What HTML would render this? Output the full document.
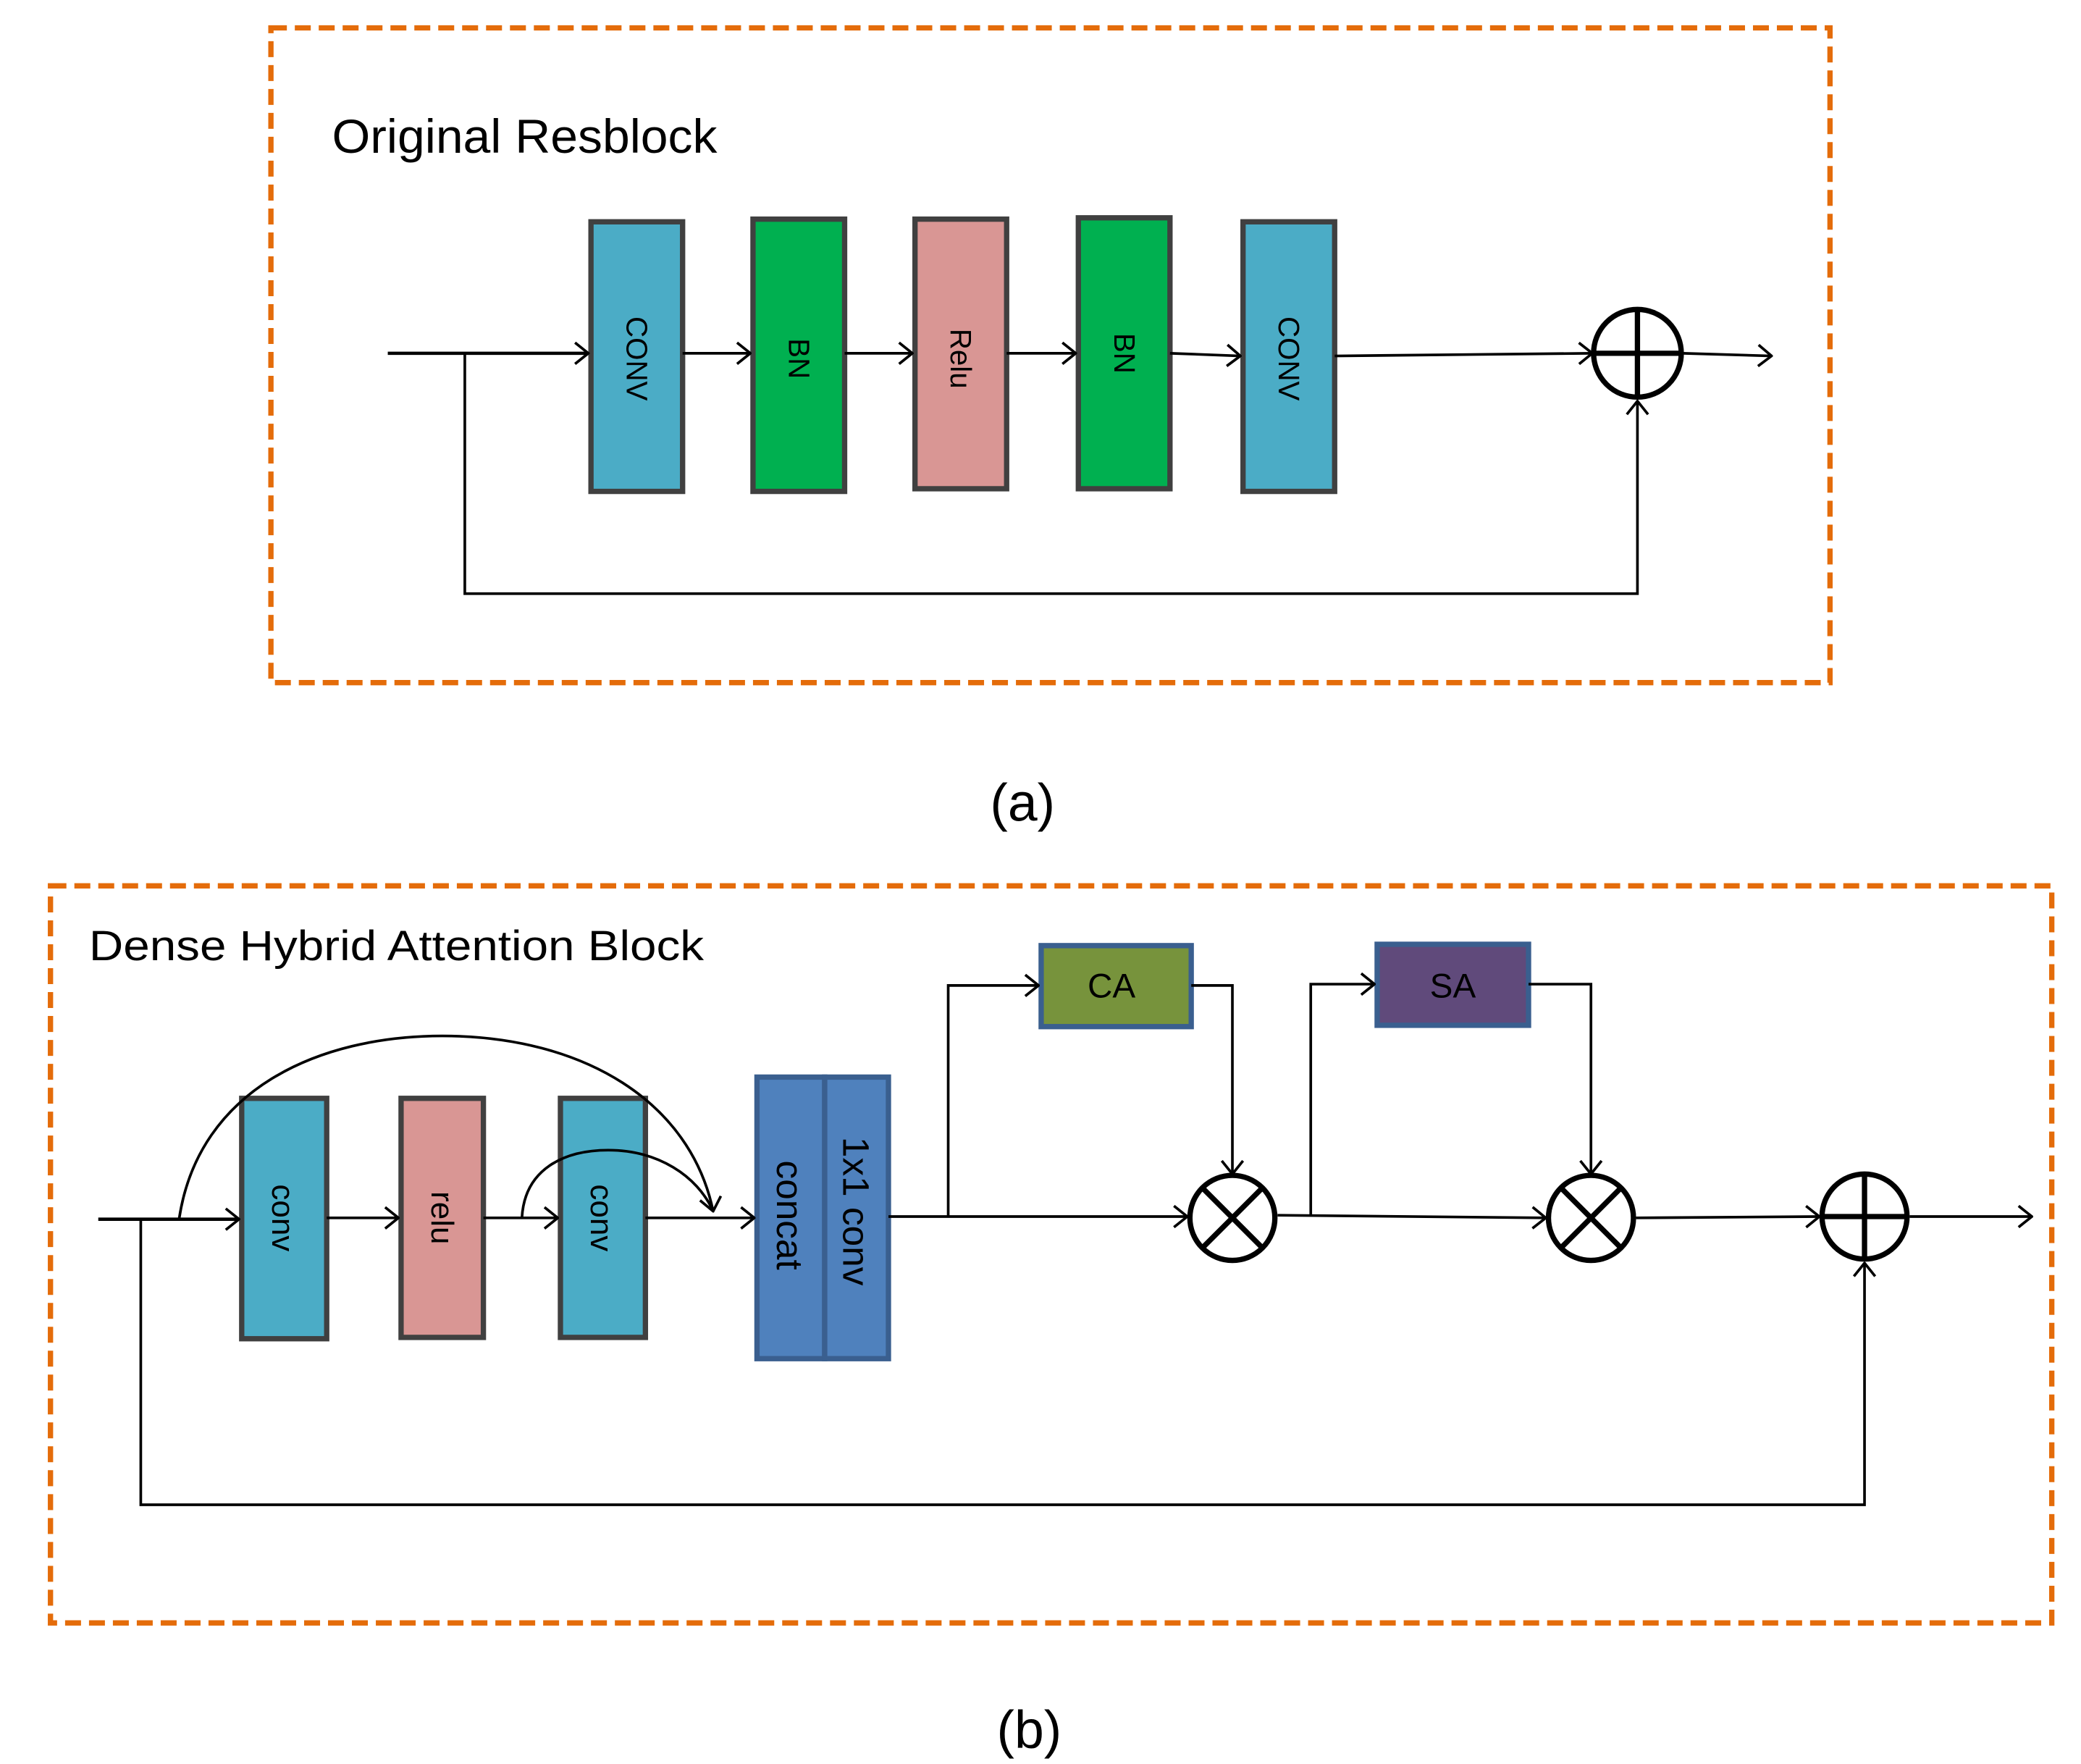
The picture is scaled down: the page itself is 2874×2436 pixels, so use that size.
<!DOCTYPE html>
<html><head><meta charset="utf-8"><style>
html,body{margin:0;padding:0;background:#fff}
svg{display:block}
text{font-family:"Liberation Sans",sans-serif}
</style></head><body>
<svg width="2874" height="2436" viewBox="0 0 1567 1328.2" xmlns="http://www.w3.org/2000/svg">
<defs>
<marker id="ar" viewBox="0 0 20 20" refX="19" refY="10" markerWidth="20" markerHeight="20" markerUnits="userSpaceOnUse" orient="auto">
<path d="M9,2 L19,10 L9,18" fill="none" stroke="#000" stroke-width="2"/>
</marker>
</defs>
<g fill="none" stroke="#E46C0A" stroke-width="4" stroke-dasharray="12,6">
<rect x="204" y="21" width="1174" height="493"/>
<rect x="38" y="667" width="1507" height="555"/>
</g>
<text x="250" y="115" font-size="36" fill="#000" textLength="290" lengthAdjust="spacingAndGlyphs">Original Resblock</text>
<text x="67" y="723" font-size="32" fill="#000" textLength="463" lengthAdjust="spacingAndGlyphs">Dense Hybrid Attention Block</text>
<text x="770" y="618" font-size="40" text-anchor="middle">(a)</text>
<text x="775" y="1316" font-size="40" text-anchor="middle">(b)</text>

<!-- (a) blocks -->
<g stroke="#404040" stroke-width="4">
<rect x="445" y="167" width="69" height="203" fill="#4BACC6"/>
<rect x="567" y="165" width="69" height="205" fill="#00B050"/>
<rect x="689" y="165" width="69" height="203" fill="#D99694"/>
<rect x="812" y="164" width="69" height="204" fill="#00B050"/>
<rect x="936" y="167" width="69" height="203" fill="#4BACC6"/>
</g>
<g font-size="22" fill="#000" text-anchor="middle">
<text transform="translate(472,270) rotate(90)">CONV</text>
<text transform="translate(594,270) rotate(90)">BN</text>
<text transform="translate(716,270) rotate(90)">Relu</text>
<text transform="translate(839,266) rotate(90)">BN</text>
<text transform="translate(963,270) rotate(90)">CONV</text>
</g>
<g stroke="#000" stroke-width="2" fill="none">
<line x1="292" y1="266" x2="443" y2="266" marker-end="url(#ar)" stroke-width="2.5"/>
<line x1="514" y1="266" x2="565" y2="266" marker-end="url(#ar)"/>
<line x1="636" y1="266" x2="687" y2="266" marker-end="url(#ar)"/>
<line x1="758" y1="266" x2="810" y2="266" marker-end="url(#ar)"/>
<line x1="881" y1="266" x2="934" y2="268" marker-end="url(#ar)"/>
<line x1="1005" y1="268" x2="1199" y2="266" marker-end="url(#ar)"/>
<line x1="1267" y1="266" x2="1334" y2="268" marker-end="url(#ar)"/>
<polyline points="350,266 350,447 1233,447 1233,302" marker-end="url(#ar)"/>
<circle cx="1233" cy="266" r="33" stroke-width="4"/>
<line x1="1233" y1="233" x2="1233" y2="299" stroke-width="4"/>
<line x1="1200" y1="266" x2="1266" y2="266" stroke-width="4"/>
</g>

<!-- (b) blocks -->
<g stroke="#404040" stroke-width="4">
<rect x="182" y="827" width="64" height="181" fill="#4BACC6"/>
<rect x="302" y="827" width="62" height="180" fill="#D99694"/>
<rect x="422" y="827" width="64" height="180" fill="#4BACC6"/>
</g>
<g stroke="#3A5F8F" stroke-width="4" fill="#4F81BD">
<rect x="570" y="811" width="51" height="212"/>
<rect x="621" y="811" width="48" height="212"/>
</g>
<rect x="784" y="712" width="113" height="61" fill="#77933C" stroke="#3A5F8F" stroke-width="4"/>
<rect x="1037" y="711" width="114" height="61" fill="#604A7B" stroke="#3A5F8F" stroke-width="4"/>
<g font-size="24" fill="#000" text-anchor="middle">
<text transform="translate(205,917) rotate(90)">conv</text>
<text transform="translate(325,917) rotate(90)">relu</text>
<text transform="translate(445,917) rotate(90)">conv</text>
<text font-size="28" transform="translate(585,915) rotate(90)">concat</text>
<text font-size="28" transform="translate(635,912) rotate(90)">1x1 conv</text>
<text x="837" y="751" font-size="26">CA</text>
<text x="1094" y="751" font-size="26">SA</text>
</g>
<g stroke="#000" stroke-width="2" fill="none">
<line x1="74" y1="918" x2="180" y2="918" marker-end="url(#ar)" stroke-width="2.5"/>
<line x1="246" y1="917" x2="300" y2="917" marker-end="url(#ar)"/>
<line x1="364" y1="917" x2="420" y2="917" marker-end="url(#ar)"/>
<line x1="486" y1="917" x2="568" y2="917" marker-end="url(#ar)"/>
<line x1="669" y1="916" x2="894" y2="916" marker-end="url(#ar)"/>
<line x1="962" y1="915" x2="1164" y2="917" marker-end="url(#ar)"/>
<line x1="1232" y1="917" x2="1370" y2="916" marker-end="url(#ar)"/>
<line x1="1438" y1="916" x2="1530" y2="916" marker-end="url(#ar)"/>
<polyline points="714,916 714,742 782,742" marker-end="url(#ar)"/>
<polyline points="897,742 928,742 928,884" marker-end="url(#ar)"/>
<polyline points="987,915 987,741 1035,741" marker-end="url(#ar)"/>
<polyline points="1151,741 1198,741 1198,884" marker-end="url(#ar)"/>
<polyline points="106,918 106,1133 1404,1133 1404,951" marker-end="url(#ar)"/>
<path d="M135,917 C150,820 240,780 333,780 C440,780 520,830 537,912" marker-end="url(#ar)"/>
<path d="M393,917 C395,880 425,866 458,866 C495,866 525,885 537,912"/>
<circle cx="928" cy="917" r="32" stroke-width="4"/>
<line x1="905" y1="894" x2="951" y2="940" stroke-width="4"/>
<line x1="951" y1="894" x2="905" y2="940" stroke-width="4"/>
<circle cx="1198" cy="917" r="32" stroke-width="4"/>
<line x1="1175" y1="894" x2="1221" y2="940" stroke-width="4"/>
<line x1="1221" y1="894" x2="1175" y2="940" stroke-width="4"/>
<circle cx="1404" cy="916" r="32" stroke-width="4"/>
<line x1="1404" y1="884" x2="1404" y2="948" stroke-width="4"/>
<line x1="1372" y1="916" x2="1436" y2="916" stroke-width="4"/>
</g>
</svg>
</body></html>
